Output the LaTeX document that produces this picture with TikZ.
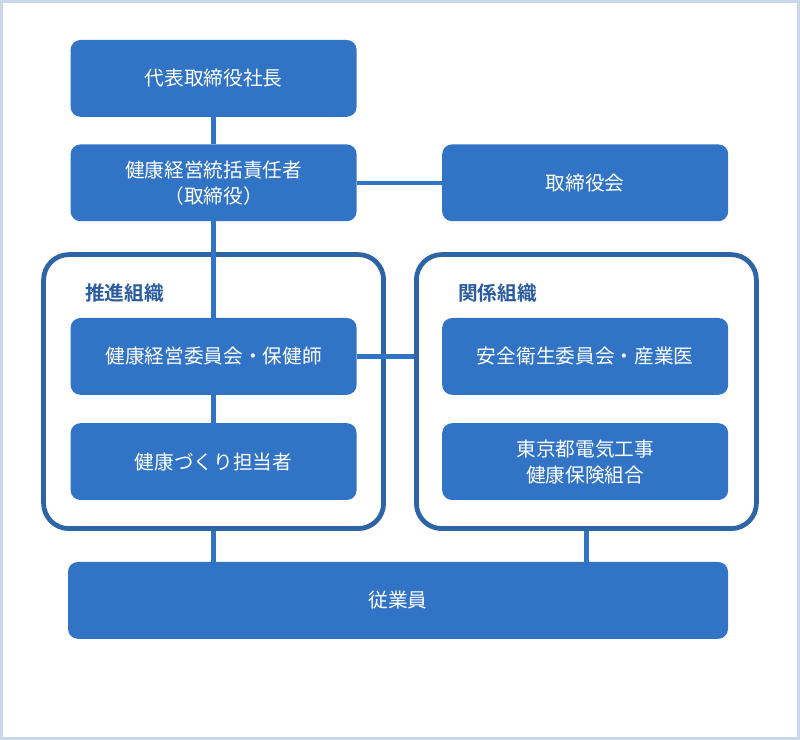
\documentclass[tikz,border=0pt]{standalone}
\usepackage{fontspec}
\setmainfont{Noto Sans CJK JP}[BoldFont={Noto Sans CJK JP Bold}]
\usetikzlibrary{positioning, calc}
\definecolor{boxblue}{RGB}{49,115,196}
\definecolor{grpblue}{RGB}{44,100,166}
\definecolor{lblblue}{RGB}{42,92,158}
\definecolor{edgegray}{RGB}{201,216,235}
\tikzset{
  BX/.style={fill=boxblue,draw=none,rounded corners=7pt,minimum width=7.15cm,minimum height=1.92cm,font=\fontsize{14}{18.5}\selectfont\color{white},align=center,inner sep=2pt},
  GRP/.style={draw=grpblue,line width=3.4pt,rounded corners=18pt,minimum width=8.5cm,minimum height=6.85cm,inner sep=0pt},
  GL/.style={font=\fontsize{14}{17}\selectfont\bfseries\color{lblblue},anchor=west,inner sep=0pt},
  LN/.style={draw=boxblue,line width=3pt},
}
\begin{document}
\begin{tikzpicture}
\useasboundingbox (0,0) rectangle (20,18.5);
\draw[edgegray,line width=2.2pt] (0.04,0.04) rectangle (19.96,18.46);

% Group frames
\node[GRP](lgrp) at ( 5.34, 8.71){};
\node[GRP](rgrp) at (14.66, 8.71){};
\node[GL](lgl) at ( 2.12,11.17){推進組織};
\node[GL](rgl) at (11.45,11.17){関係組織};

% Boxes
\node[BX](ceo)    at ( 5.34,16.54){代表取締役社長};
\node[BX](chief)  at ( 5.34,13.93){健康経営統括責任者\\（取締役）};
\node[BX](board)  at (14.63,13.93){取締役会};
\node[BX](cmte)   at ( 5.34, 9.59){健康経営委員会・保健師};
\node[BX](promo)  at ( 5.34, 6.96){健康づくり担当者};
\node[BX](safety) at (14.63, 9.59){安全衛生委員会・産業医};
\node[BX](union)  at (14.63, 6.96){東京都電気工事\\健康保険組合};
\node[BX,minimum width=16.5cm](staff) at ( 9.95, 3.49){従業員};

% Links
\draw[LN](ceo.south)--(chief.north);
\draw[LN](chief.east)--(board.west);
\draw[LN](chief.south)--(cmte.north);
\draw[LN](cmte.south)--(promo.north);
\draw[LN](cmte.east)--(cmte.east -| rgrp.west);
\draw[LN](lgrp.south)--(lgrp.south |- staff.north);
\draw[LN](rgrp.south)--(rgrp.south |- staff.north);

\end{tikzpicture}
\end{document}
